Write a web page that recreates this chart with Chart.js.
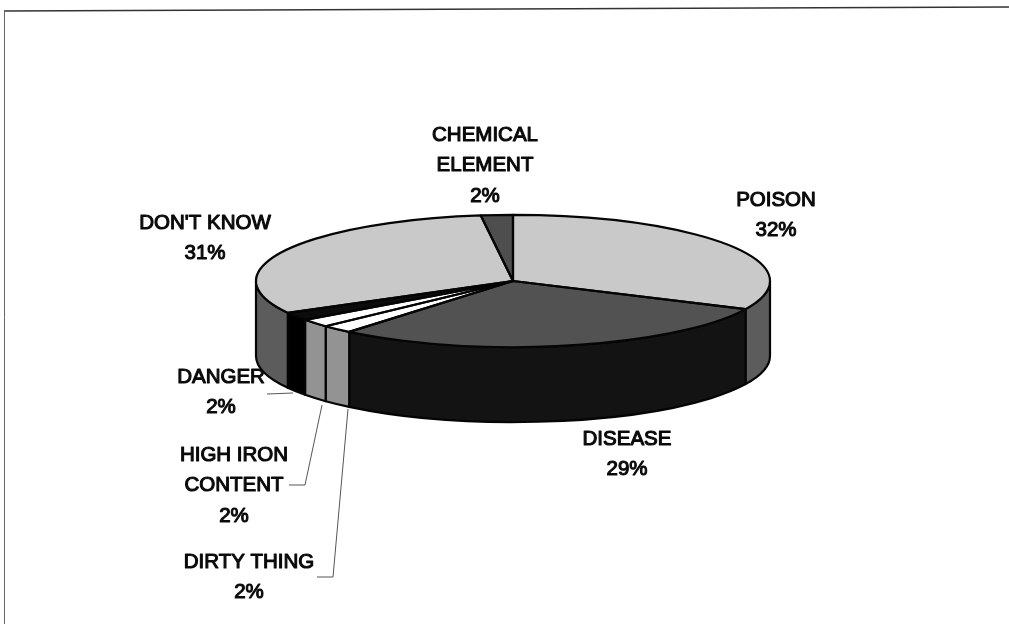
<!DOCTYPE html>
<html>
<head>
<meta charset="utf-8">
<style>
  html, body { margin: 0; padding: 0; background: #fff; }
  canvas { display: block; }
</style>
<script src="https://cdn.jsdelivr.net/npm/chart.js@4/dist/chart.umd.min.js"></script>
</head>
<body>
<canvas id="pieChart" width="1009" height="624"></canvas>
<script>
var categories = ['POISON', 'DISEASE', 'DIRTY THING', 'HIGH IRON CONTENT', 'DANGER', "DON'T KNOW", 'CHEMICAL ELEMENT'];
var shares = [32, 29, 2, 2, 2, 31, 2];
var topColors = ['#c9c9c9', '#525252', '#ffffff', '#ffffff', '#0c0c0c', '#c9c9c9', '#4e4e4e'];
var wallColors = ['#5c5c5c', '#131313', '#939393', '#939393', '#000000', '#5c5c5c', '#4e4e4e'];

// Text blocks around the pie: one entry per slice, lines are split by hand
var labelLines = [['POISON'], ['DISEASE'], ['DIRTY THING'], ['HIGH IRON', 'CONTENT'], ['DANGER'], ["DON'T KNOW"], ['CHEMICAL', 'ELEMENT']];
var labelSpots = [[776, 200], [627, 439], [249, 562], [234, 455], [221, 377], [205, 223], [485, 135]];
var lineGap = 30.5;

// Leader lines for the three thin slices
var leaders = [
  [[267, 394], [293, 393]],
  [[289, 485], [305, 485], [322, 405]],
  [[317, 577], [333, 577], [348, 409]]
];

var squash = 0.257;
var depth = 75;

// Side wall of one slice, only the part facing the viewer (canvas angles 0..PI)
function drawWall(ctx, arc, color) {
  var a0 = Math.max(arc.startAngle, 0);
  var a1 = Math.min(arc.endAngle, Math.PI);
  if (a1 <= a0) return;
  var ry = arc.outerRadius * squash;
  ctx.beginPath();
  ctx.ellipse(arc.x, arc.y, arc.outerRadius, ry, 0, a0, a1);
  ctx.ellipse(arc.x, arc.y + depth, arc.outerRadius, ry, 0, a1, a0, true);
  ctx.closePath();
  ctx.fillStyle = color;
  ctx.fill();
  ctx.lineWidth = 2.2;
  ctx.strokeStyle = '#050505';
  ctx.stroke();
}

var tiltedPie = {
  id: 'tiltedPie',
  beforeDatasetsDraw: function(chart) {
    var ctx = chart.ctx;
    var arcs = chart.getDatasetMeta(0).data;
    ctx.save();
    ctx.lineJoin = 'round';
    arcs.forEach(function(arc, i) { drawWall(ctx, arc, wallColors[i]); });
    ctx.restore();

    // the library paints the slices flat, this turns the circle into an ellipse
    ctx.save();
    ctx.translate(0, arcs[0].y);
    ctx.scale(1, squash);
    ctx.translate(0, -arcs[0].y);
  },
  afterDatasetsDraw: function(chart) {
    var ctx = chart.ctx;
    ctx.restore();
    var arcs = chart.getDatasetMeta(0).data;

    // outlines go on after the transform so the line width stays even
    ctx.save();
    ctx.lineJoin = 'round';
    ctx.strokeStyle = '#050505';
    ctx.lineWidth = 2.2;
    arcs.forEach(function(arc) {
      ctx.beginPath();
      ctx.moveTo(arc.x, arc.y);
      ctx.ellipse(arc.x, arc.y, arc.outerRadius, arc.outerRadius * squash, 0, arc.startAngle, arc.endAngle);
      ctx.closePath();
      ctx.stroke();
    });
    ctx.restore();

    drawFrame(ctx);
    drawLeaders(ctx);
    drawLabels(ctx);
  }
};

function drawFrame(ctx) {
  ctx.save();
  ctx.strokeStyle = '#333';
  ctx.lineWidth = 1.6;
  ctx.beginPath();
  ctx.moveTo(4, 11);
  ctx.lineTo(1009, 7);
  ctx.stroke();
  ctx.strokeStyle = '#666';
  ctx.lineWidth = 1;
  ctx.beginPath();
  ctx.moveTo(4.5, 11);
  ctx.lineTo(4.5, 624);
  ctx.stroke();
  ctx.restore();
}

function drawLeaders(ctx) {
  ctx.save();
  ctx.strokeStyle = '#555';
  ctx.lineWidth = 1;
  leaders.forEach(function(points) {
    ctx.beginPath();
    points.forEach(function(p, i) {
      if (i == 0) ctx.moveTo(p[0], p[1]);
      else ctx.lineTo(p[0], p[1]);
    });
    ctx.stroke();
  });
  ctx.restore();
}

function drawLabels(ctx) {
  ctx.save();
  ctx.font = '20.5px "Liberation Sans", Arial, sans-serif';
  ctx.fillStyle = '#0a0a0a';
  ctx.strokeStyle = '#0a0a0a';
  ctx.lineWidth = 1.1;
  ctx.lineJoin = 'round';
  ctx.textAlign = 'center';
  ctx.textBaseline = 'middle';
  categories.forEach(function(name, i) {
    var lines = labelLines[i].concat(shares[i] + '%');
    lines.forEach(function(line, n) {
      var y = labelSpots[i][1] + n * lineGap;
      ctx.fillText(line, labelSpots[i][0], y);
      ctx.strokeText(line, labelSpots[i][0], y);
    });
  });
  ctx.restore();
}

var ctx = document.getElementById('pieChart').getContext('2d');
var pieChart = new Chart(ctx, {
  type: 'pie',
  data: {
    labels: categories,
    datasets: [{
      data: shares,
      backgroundColor: topColors,
      borderWidth: 0,
      radius: 257
    }]
  },
  options: {
    responsive: false,
    animation: false,
    events: [],
    layout: { padding: { left: 17, bottom: 62 } },
    plugins: {
      legend: { display: false },
      tooltip: { enabled: false }
    }
  },
  plugins: [tiltedPie]
});
</script>
</body>
</html>
